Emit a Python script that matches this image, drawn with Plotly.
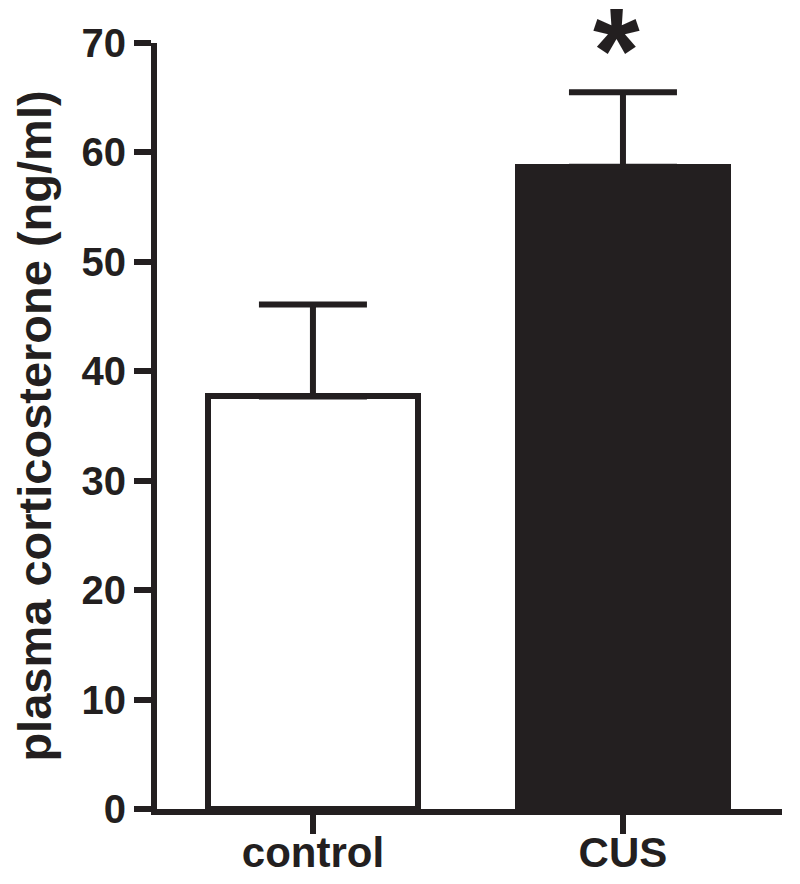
import plotly.graph_objects as go

categories = ["control", "CUS"]
means = [37.7, 58.7]
sem = [8.4, 6.8]
fill_colors = ["white", "#231f20"]
y_ticks = [0, 10, 20, 30, 40, 50, 60, 70]
y_title = "plasma corticosterone (ng/ml)"
signif = ["", "*"]

INK = "#231f20"
FONT = "Liberation Sans, Arial, sans-serif"

fig = go.Figure()
fig.add_trace(go.Bar(
    x=[0, 1], y=means, width=0.675,
    marker=dict(color=fill_colors, line=dict(color=INK, width=6)),
    error_y=dict(type="data", array=sem, arrayminus=[0, 0], symmetric=False,
                 color=INK, thickness=6, width=54),
    showlegend=False,
))

for i, s in enumerate(signif):
    if s:
        fig.add_annotation(x=i, y=means[i] + sem[i], yref="y", text=f"<b>{s}</b>",
                           showarrow=False, yanchor="bottom", yshift=-27, xshift=-6,
                           font=dict(family=FONT, size=120, color=INK))

fig.update_layout(
    width=800, height=884,
    margin=dict(l=149, r=26, t=35, b=83),
    paper_bgcolor="white", plot_bgcolor="white",
    bargap=0,
    font=dict(family=FONT, color=INK),
)
fig.update_xaxes(
    range=[-0.503, 1.513], tickvals=[0, 1], ticktext=[f"<b>{c}</b>" for c in categories],
    showline=True, linecolor=INK, linewidth=6, ticks="outside", ticklen=19, tickwidth=6,
    tickcolor=INK, tickfont=dict(family=FONT, size=42, color=INK), showgrid=False, zeroline=False,
    automargin=False, ticklabelstandoff=-17,
)
fig.update_yaxes(
    range=[0, 70], tickvals=y_ticks, ticktext=[f"<b>{t}</b>" for t in y_ticks],
    showline=True, linecolor=INK, linewidth=6, ticks="outside", ticklen=17, tickwidth=6,
    tickcolor=INK, tickfont=dict(family=FONT, size=40, color=INK), showgrid=False, zeroline=False,
    title=dict(text=f"<b>{y_title}</b>", font=dict(family=FONT, size=47, color=INK), standoff=18),
    automargin=False,
)

fig.write_html("out.html")
